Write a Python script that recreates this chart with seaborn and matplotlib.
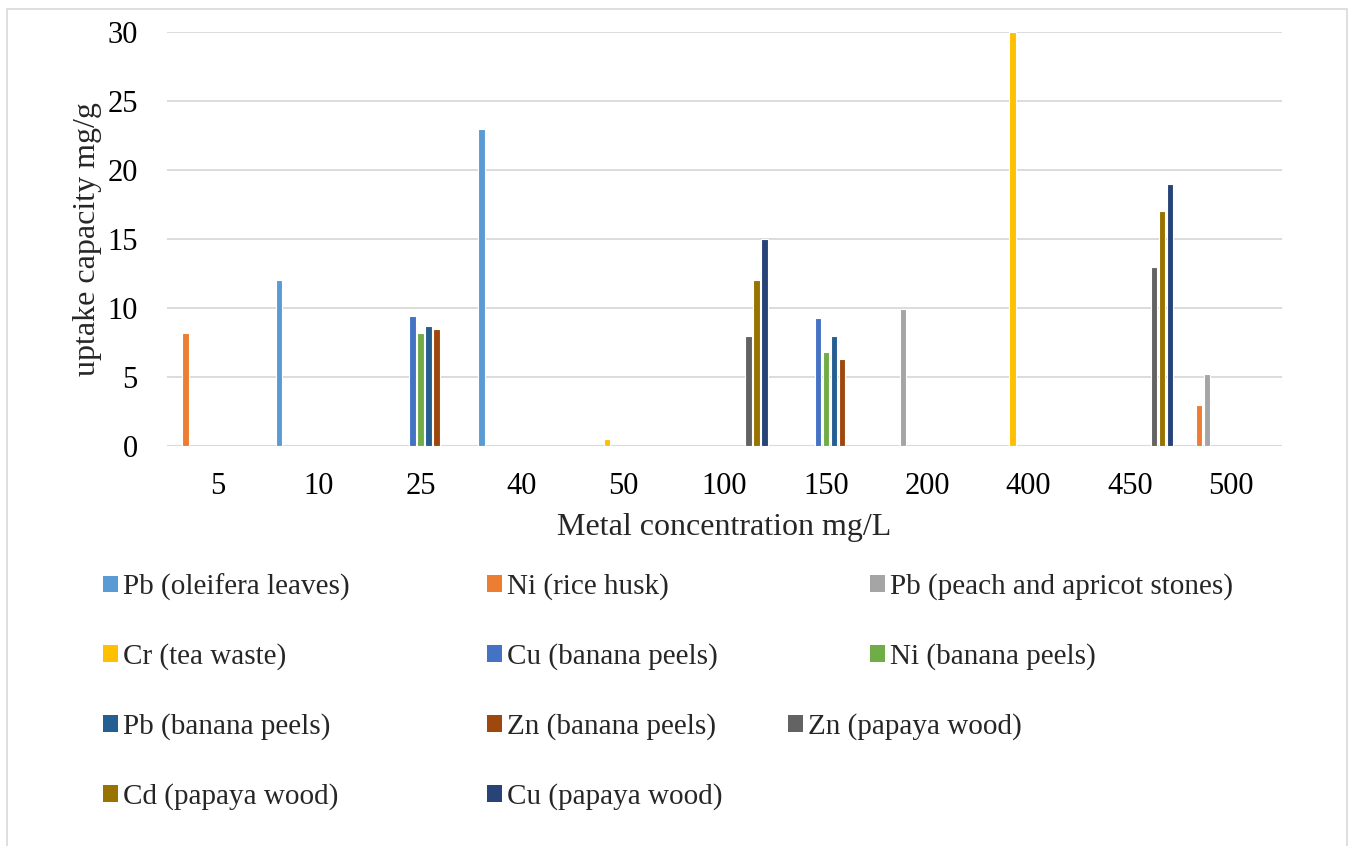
import numpy as np
import pandas as pd
import matplotlib
matplotlib.use("Agg")
import matplotlib.pyplot as plt
from matplotlib.patches import Patch, Rectangle
import seaborn as sns

nan = np.nan

# Metal concentrations (mg/L) on the category axis
concentrations = ["5", "10", "25", "40", "50", "100", "150", "200", "400", "450", "500"]

# Uptake capacity (mg/g) per biosorbent, one value per concentration (nan = not tested)
pb_oleifera   = [nan, 12.0, nan, 23.0, nan, nan, nan, nan, nan, nan, nan]
ni_rice_husk  = [8.2, nan, nan, nan, nan, nan, nan, nan, nan, nan, 3.0]
pb_peach      = [nan, nan, nan, nan, nan, nan, nan, 9.9, nan, nan, 5.2]
cr_tea        = [nan, nan, nan, nan, 0.5, nan, nan, nan, 30.0, nan, nan]
cu_banana     = [nan, nan, 9.45, nan, nan, nan, 9.25, nan, nan, nan, nan]
ni_banana     = [nan, nan, 8.2, nan, nan, nan, 6.8, nan, nan, nan, nan]
pb_banana     = [nan, nan, 8.7, nan, nan, nan, 7.95, nan, nan, nan, nan]
zn_banana     = [nan, nan, 8.45, nan, nan, nan, 6.3, nan, nan, nan, nan]
zn_papaya     = [nan, nan, nan, nan, nan, 8.0, nan, nan, nan, 13.0, nan]
cd_papaya     = [nan, nan, nan, nan, nan, 12.0, nan, nan, nan, 17.0, nan]
cu_papaya     = [nan, nan, nan, nan, nan, 15.0, nan, nan, nan, 19.0, nan]

series_names = [
    "Pb (oleifera leaves)", "Ni (rice husk)", "Pb (peach and apricot stones)",
    "Cr (tea waste)", "Cu (banana peels)", "Ni (banana peels)",
    "Pb (banana peels)", "Zn (banana peels)", "Zn (papaya wood)",
    "Cd (papaya wood)", "Cu (papaya wood)",
]
series_values = [
    pb_oleifera, ni_rice_husk, pb_peach, cr_tea, cu_banana, ni_banana,
    pb_banana, zn_banana, zn_papaya, cd_papaya, cu_papaya,
]
colors = [
    "#5B9BD5", "#ED7D31", "#A5A5A5", "#FFC000", "#4472C4", "#70AD47",
    "#255E91", "#9E480E", "#636363", "#997300", "#264478",
]

rows = []
for name, vals in zip(series_names, series_values):
    for conc, v in zip(concentrations, vals):
        if not np.isnan(v):
            rows.append({"conc": conc, "series": name, "value": v})
df = pd.DataFrame(rows)

sns.set_style("white")
plt.rcParams["font.family"] = ["Liberation Serif", "DejaVu Serif"]

W, H = 1352, 846
fig = plt.figure(figsize=(W / 100, H / 100), dpi=100)
ax = fig.add_axes([167 / W, 1 - 446 / H, (1282 - 167) / W, (446 - 32) / H])

sns.barplot(
    data=df, x="conc", y="value", hue="series",
    order=concentrations, hue_order=series_names,
    palette=colors, saturation=1, width=0.87, gap=0.2,
    edgecolor="white", linewidth=0.8,
    errorbar=None, legend=False, ax=ax, zorder=3,
)

ax.set_xlim(-0.5, len(concentrations) - 0.5)
ax.set_ylim(0, 30)
ax.set_yticks([0, 5, 10, 15, 20, 25, 30])
ax.yaxis.grid(True, color="#D9D9D9", linewidth=1.3, zorder=0)
ax.xaxis.grid(False)
for s in ax.spines.values():
    s.set_visible(False)
ax.axhline(0, color="#D9D9D9", linewidth=1.5, zorder=2)
ax.tick_params(axis="both", length=0, labelsize=22, colors="black")
ax.tick_params(axis="y", pad=21)
ax.tick_params(axis="x", pad=19)

ax.set_xlabel("Metal concentration mg/L", fontsize=23, va="center")
ax.set_ylabel("uptake capacity mg/g", fontsize=23, va="center")
ax.xaxis.set_label_coords(0.5, (446 - 528) / 414)
ax.yaxis.set_label_coords((88 - 167) / 1115, 0.5)

# Legend entries laid out in rows below the chart
legend_slots = [
    (103, 587), (487, 587), (870, 587),
    (103, 657), (487, 657), (870, 657),
    (103, 727), (487, 727), (788, 727),
    (103, 797), (487, 797),
]
for name, color, (lx, ly) in zip(series_names, colors, legend_slots):
    fig.legend(
        handles=[Patch(facecolor=color, edgecolor="none")], labels=[name],
        loc="center left", bbox_to_anchor=(lx / W, 1 - ly / H),
        frameon=False, fontsize=21, handlelength=0.5, handleheight=0.5,
        handletextpad=0.2, borderpad=0, borderaxespad=0,
    )

# Chart area outline
fig.patches.append(Rectangle(
    (7 / W, -0.05), (1347 - 7) / W, 1 - 9 / H + 0.05,
    transform=fig.transFigure, fill=False, edgecolor="#D9D9D9", linewidth=1.2,
))

fig.savefig("out.png", dpi=100, facecolor="white")
